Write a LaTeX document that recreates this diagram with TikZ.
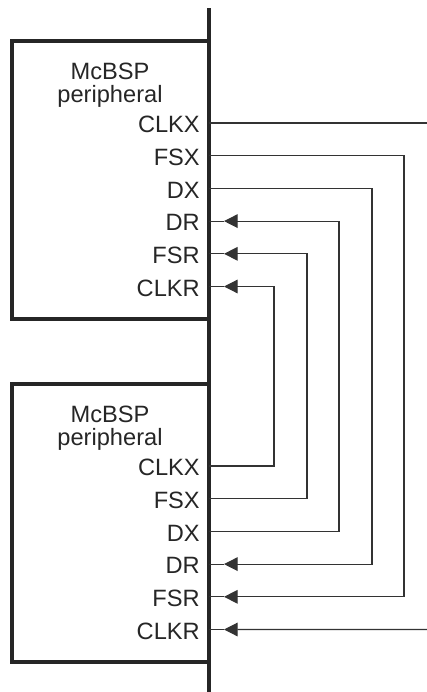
\documentclass[tikz,border=0pt]{standalone}
\usepackage{fontspec}
\setmainfont{Liberation Sans}
\usetikzlibrary{arrows.meta}

\tikzset{
  chipbox/.style={line width=2.4pt, black!85},
  bus/.style={line width=2.5pt, black!85},
  wire/.style={line width=0.85pt, black!80},
  wirearrow/.style={wire, -{Triangle[length=0.34cm,width=0.34cm]}},
  sig/.style={anchor=east, inner sep=0pt, text=black!85,
    font=\fontsize{16.8}{16.3}\selectfont},
  blockname/.style={anchor=north, align=center, inner sep=0pt, text=black!85,
    font=\fontsize{16.8}{16.3}\selectfont}
}

\begin{document}
\begin{tikzpicture}[x=0.025cm, y=-0.025cm]
  \useasboundingbox (0,0) rectangle (427,692);

  % the two peripheral blocks
  \draw[chipbox] (209,41) -- (12,41) -- (12,319) -- (209,319);
  \draw[chipbox] (209,384) -- (12,384) -- (12,662) -- (209,662);

  % shared edge
  \draw[bus] (209,8) -- (209,692);

  \node[blockname] (tname) at (110,63) {McBSP\\peripheral};
  \node[blockname] (bname) at (110,406) {McBSP\\peripheral};

  % pin labels, pin points on the edge, arrow tip points
  \foreach \pin [count=\i] in {CLKX,FSX,DX,DR,FSR,CLKR} {
    \pgfmathsetmacro{\ty}{123+32.7*(\i-1)}
    \pgfmathsetmacro{\by}{466+32.7*(\i-1)}
    \node[sig] (t\pin) at (200,\ty+1.5) {\pin};
    \node[sig] (b\pin) at (200,\by+1.5) {\pin};
    \coordinate (t\pin-b) at (209,\ty);
    \coordinate (b\pin-b) at (209,\by);
    \coordinate (t\pin-a) at (224,\ty);
    \coordinate (b\pin-a) at (224,\by);
  }

  % routing tracks
  \coordinate (trkA) at (404,0);
  \coordinate (trkB) at (372,0);
  \coordinate (trkC) at (339,0);
  \coordinate (trkD) at (307,0);
  \coordinate (trkE) at (274,0);
  \coordinate (txout) at (427,123);
  \coordinate (rxin) at (427,629.5);

  % transmit to receive
  \draw[wire] (tCLKX-b) -- (txout);
  \draw[wirearrow] (tFSX-b) -| (trkA |- bFSR-b) -- (bFSR-a);
  \draw[wirearrow] (tDX-b) -| (trkB |- bDR-b) -- (bDR-a);
  \draw[wirearrow] (bDX-b) -| (trkC |- tDR-b) -- (tDR-a);
  \draw[wirearrow] (bFSX-b) -| (trkD |- tFSR-b) -- (tFSR-a);
  \draw[wirearrow] (bCLKX-b) -| (trkE |- tCLKR-b) -- (tCLKR-a);
  \draw[wirearrow] (rxin) -- (bCLKR-a);

  % short ends between arrow tips and the edge
  \foreach \pin in {DR,FSR,CLKR} {
    \draw[wire] (t\pin-a) -- (t\pin-b);
    \draw[wire] (b\pin-a) -- (b\pin-b);
  }
\end{tikzpicture}
\end{document}
